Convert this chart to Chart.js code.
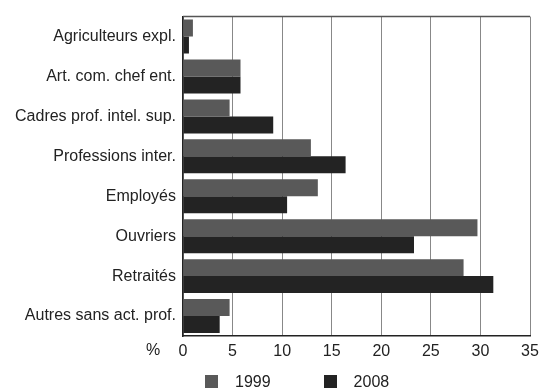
<!DOCTYPE html>
<html>
<head>
<meta charset="utf-8">
<script src="https://cdn.jsdelivr.net/npm/chart.js@4"></script>
<style>
 body { margin: 0; background: #fff; }
 #wrap { position: relative; width: 541px; height: 389px; }
 #legend { position: absolute; top: 373px; left: 205px; font: 16px "Liberation Sans", Arial, sans-serif; color: #222; white-space: nowrap; }
 #legend span.item { display: inline-block; margin-right: 53px; }
 #legend span.box { display: inline-block; width: 13px; height: 13px; margin-right: 17px; vertical-align: -1px; }
</style>
</head>
<body>
<div id="wrap">
 <canvas id="chart1" width="541" height="389"></canvas>
 <div id="legend"></div>
</div>
<script>
// data
var categories = ['Agriculteurs expl.', 'Art. com. chef ent.', 'Cadres prof. intel. sup.', 'Professions inter.', 'Employés', 'Ouvriers', 'Retraités', 'Autres sans act. prof.'];
var values1999 = [1.0, 5.8, 4.7, 12.9, 13.6, 29.7, 28.3, 4.7];
var values2008 = [0.6, 5.8, 9.1, 16.4, 10.5, 23.3, 31.3, 3.7];
var seriesNames = ['1999', '2008'];
var seriesColors = ['#595959', '#232323'];

var font = { family: '"Liberation Sans", Arial, sans-serif', size: 16 };

// top border of the plot + "%" label
var extras = {
 id: 'extras',
 afterDraw: function(chart) {
  var c = chart.ctx, a = chart.chartArea;
  c.save();
  c.strokeStyle = '#555';
  c.lineWidth = 1.5;
  c.beginPath();
  c.moveTo(a.left, a.top);
  c.lineTo(a.right, a.top);
  c.stroke();
  c.fillStyle = '#222';
  c.font = '16px "Liberation Sans", Arial, sans-serif';
  c.textAlign = 'center';
  c.textBaseline = 'middle';
  c.fillText('%', a.left - 30, a.bottom + 15);
  c.restore();
 }
};

var ctx1 = document.getElementById('chart1').getContext('2d');
var chart1 = new Chart(ctx1, {
 type: 'bar',
 data: {
  labels: categories,
  datasets: [{
   label: seriesNames[0],
   data: values1999,
   backgroundColor: seriesColors[0]
  }, {
   label: seriesNames[1],
   data: values2008,
   backgroundColor: seriesColors[1]
  }]
 },
 options: {
  indexAxis: 'y',
  responsive: false,
  animation: false,
  layout: { padding: { top: 14, right: 11, bottom: 28, left: 0 } },
  datasets: { bar: { categoryPercentage: 0.85, barPercentage: 1.0 } },
  plugins: { legend: { display: false }, tooltip: { enabled: false } },
  scales: {
   x: {
    min: 0,
    max: 35,
    ticks: { stepSize: 5, color: '#222', font: font, padding: 6 },
    grid: { color: '#888', lineWidth: 1, drawTicks: false },
    border: { color: '#222', width: 1.5 },
    afterFit: function(s) { s.height = 25; s.paddingLeft = 0; s.paddingRight = 0; }
   },
   y: {
    ticks: { color: '#222', font: font, padding: 7 },
    grid: { display: false, drawTicks: false },
    border: { color: '#222', width: 1.5 },
    afterFit: function(s) { s.width = 183; }
   }
  }
 },
 plugins: [extras]
});

// legend
var legend = document.getElementById('legend');
seriesNames.forEach(function(name, i) {
 legend.innerHTML += '<span class="item"><span class="box" style="background:' + seriesColors[i] + '"></span>' + name + '</span>';
});
</script>
</body>
</html>
